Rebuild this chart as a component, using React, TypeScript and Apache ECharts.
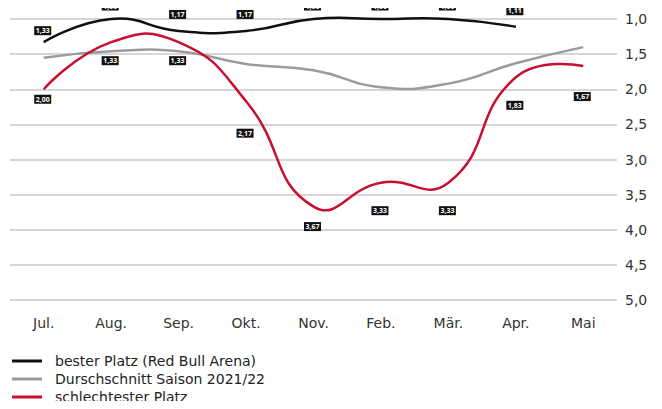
import React, { useEffect, useRef } from "react";
import * as echarts from "echarts";

// Months of the 2021/22 season
const months = ["Jul.", "Aug.", "Sep.", "Okt.", "Nov.", "Feb.", "Mär.", "Apr.", "Mai"];

// Table position per month
const bestPlace: (number | null)[] = [1.33, 1.0, 1.17, 1.17, 1.0, 1.0, 1.0, 1.11, null];
const seasonAverage: number[] = [1.55, 1.46, 1.46, 1.64, 1.73, 1.97, 1.92, 1.63, 1.4];
const worstPlace: number[] = [2.0, 1.33, 1.33, 2.17, 3.67, 3.33, 3.33, 1.83, 1.67];

const seriesNames = [
  "bester Platz (Red Bull Arena)",
  "Durschschnitt Saison 2021/22",
  "schlechtester Platz",
];

const yTicks = { min: 1, max: 5, step: 0.5 };

// Vertical shift of each value badge relative to its point
const bestBadgeShift = [-11.5, -13, -16.5, -16.5, -13, -13, -13, -16, 0];
const worstBadgeShift = [10, 18.5, 18.5, 32, 20, 28, 28, 28, 30.5];

const FONT = "'DejaVu Sans', 'Noto Sans', sans-serif";
const BADGE_FONT = "'Open Sans', 'Noto Sans', sans-serif";
const BLACK = "#111111";
const GREY = "#9b9b9b";
const RED = "#c8102e";

const fmtBadge = (v: number) => v.toFixed(2).replace(".", ",");

// Smooth curve through all points plus an optional value badge per point
function curveSeries(
  name: string,
  values: (number | null)[],
  color: string,
  width: number,
  shifts: number[] | null,
  z: number
) {
  const data = values
    .map((v, i) => (v == null ? null : [i, v]))
    .filter((d) => d !== null) as number[][];
  return {
    name,
    type: "custom",
    coordinateSystem: "cartesian2d",
    z,
    itemStyle: { color },
    encode: { x: 0, y: 1 },
    data,
    renderItem: (params: any, api: any) => {
      const children: any[] = [];
      if (params.dataIndex === 0) {
        const pts = data.map((d) => api.coord([d[0], d[1]]));
        children.push({
          type: "polyline",
          shape: { points: pts, smooth: 0.5 },
          style: { stroke: color, lineWidth: width, fill: null },
          z2: 1,
        });
      }
      if (shifts) {
        const idx = api.value(0);
        const val = api.value(1);
        const p = api.coord([idx, val]);
        children.push({
          type: "text",
          x: p[0] - 1,
          y: p[1] + shifts[idx],
          z2: 10,
          style: {
            text: fmtBadge(val),
            fill: "#ffffff",
            backgroundColor: "#111111",
            padding: [1, 1.5, 0, 1.5],
            fontFamily: BADGE_FONT,
            fontWeight: "bold",
            fontSize: 7,
            lineHeight: 8,
            align: "center",
            verticalAlign: "middle",
          },
        });
      }
      return { type: "group", children };
    },
  };
}

export default function App() {
  const ref = useRef<HTMLDivElement>(null);

  useEffect(() => {
    if (!ref.current) return;
    const chart = echarts.init(ref.current, undefined, { renderer: "svg" });
    chart.setOption({
      animation: false,
      textStyle: { fontFamily: FONT },
      grid: { left: 10, right: 45, top: 19, bottom: 109, containLabel: false },
      legend: {
        orient: "vertical",
        left: 12,
        top: 353,
        height: 60,
        padding: 0,
        icon: "rect",
        itemWidth: 30,
        itemHeight: 3,
        itemGap: 2,
        data: seriesNames,
        textStyle: {
          color: "#222222",
          fontSize: 14,
          lineHeight: 16,
          fontFamily: FONT,
          padding: [0, 0, 0, 8],
        },
      },
      xAxis: {
        type: "category",
        data: months,
        boundaryGap: true,
        axisLine: { show: false },
        axisTick: { show: false },
        axisLabel: { color: "#333333", fontSize: 14, margin: 16, fontFamily: FONT },
      },
      yAxis: {
        type: "value",
        position: "right",
        inverse: true,
        min: yTicks.min,
        max: yTicks.max,
        interval: yTicks.step,
        axisLine: { show: false },
        axisTick: { show: false },
        axisLabel: {
          color: "#333333",
          fontSize: 14,
          margin: 8,
          fontFamily: FONT,
          formatter: (v: number) => v.toFixed(1).replace(".", ","),
        },
        splitLine: { lineStyle: { color: "#c8c8c8", width: 1.5 } },
      },
      series: [
        curveSeries(seriesNames[1], seasonAverage, GREY, 2.5, null, 2),
        curveSeries(seriesNames[0], bestPlace, BLACK, 2.5, bestBadgeShift, 3),
        curveSeries(seriesNames[2], worstPlace, RED, 2.5, worstBadgeShift, 4),
      ],
    });
    return () => chart.dispose();
  }, []);

  return <div ref={ref} style={{ width: 662, height: 409, margin: -8 }} />;
}
